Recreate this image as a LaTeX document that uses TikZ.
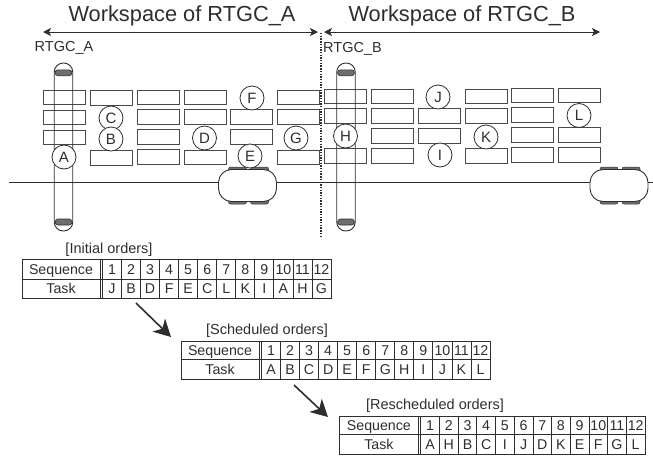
\documentclass[tikz,border=0pt]{standalone}
\usepackage{fontspec}
\setmainfont{Liberation Sans}
\usetikzlibrary{arrows.meta}
\definecolor{ink}{HTML}{2E2E2E}
\definecolor{boxline}{HTML}{4A4A4A}
\definecolor{wheelgray}{HTML}{6E6E6E}
\tikzset{
  box/.style={draw=boxline,line width=0.9pt,fill=white,minimum width=42pt,minimum height=14.6pt,inner sep=0pt,outer sep=0pt},
  tag/.style={draw=ink,line width=0.8pt,fill=white,circle,minimum size=24pt,inner sep=0pt,font=\fontsize{15}{15}\selectfont,text=ink,text height=10.7pt,text depth=0pt},
  crane/.style={draw=ink,line width=0.9pt,rounded corners=9pt,minimum width=18.5pt,minimum height=168pt,inner sep=0pt},
  wheel/.style={draw=ink,line width=0.6pt,fill=wheelgray,rounded corners=3pt,minimum width=17pt,minimum height=6pt,inner sep=0pt},
  truck/.style={draw=ink,line width=0.9pt,fill=white,rounded corners=13pt,minimum width=58pt,minimum height=32pt,inner sep=0pt},
  truckwheel/.style={draw=ink,line width=0.5pt,fill=wheelgray,rounded corners=2pt,minimum width=18pt,minimum height=6pt,inner sep=0pt},
  heading/.style={font=\fontsize{21.8}{22}\selectfont,text=ink,inner sep=0pt},
  small/.style={font=\fontsize{14.5}{14.5}\selectfont,text=ink,inner sep=0pt},
  cellt/.style={font=\fontsize{14.2}{14.2}\selectfont,text=ink,inner sep=0pt,text height=10.2pt,text depth=0pt},
  span/.style={draw=ink,line width=1pt,{Stealth[length=8pt,width=8pt,inset=2pt]}-{Stealth[length=8pt,width=8pt,inset=2pt]}},
  flow/.style={draw=ink,line width=1.6pt,-{Stealth[length=17pt,width=18pt,inset=5pt]}},
  grid/.style={draw=ink,line width=0.8pt}
}
% name, x of the left edge, x of the double rule, top, middle and bottom rule, width, tasks
\newcommand{\ordertable}[8]{%
  \draw[grid] (#2,#4) rectangle (#2+#7,#6);
  \draw[grid] (#2,#5) -- (#2+#7,#5);
  \draw[grid] (#3,#4) -- (#3,#6);
  \draw[grid] (#3+2.5,#4) -- (#3+2.5,#6);
  \pgfmathsetmacro{\colw}{(#2+#7-#3-2.5)/12}
  \node[cellt] (#1seq) at ({(#2+#3)/2},{(#4+#5)/2}) {Sequence};
  \node[cellt] (#1task) at ({(#2+#3)/2},{(#5+#6)/2}) {Task};
  \foreach \t [count=\i] in {#8}{%
    \pgfmathsetmacro{\cx}{#3+2.5+(\i-0.5)*\colw}
    \pgfmathsetmacro{\rx}{#3+2.5+\i*\colw}
    \node[cellt] (#1n\i) at (\cx,{(#4+#5)/2}) {\i};
    \node[cellt] (#1t\i) at (\cx,{(#5+#6)/2}) {\t};
    \ifnum\i<12 \draw[grid] (\rx,#4) -- (\rx,#6);\fi
  }%
}
\begin{document}
\begin{tikzpicture}[x=1pt,y=-1pt]
\useasboundingbox (0,0) rectangle (653,456);
% headings
\node[heading] (wsa) at (182,16) {Workspace of RTGC\_A};
\node[heading] (wsb) at (462,16) {Workspace of RTGC\_B};
\coordinate (sal) at (43,32); \coordinate (sar) at (318,32);
\coordinate (sbl) at (324,32); \coordinate (sbr) at (600,32);
\draw[span] (sal) -- (sar);
\draw[span] (sbl) -- (sbr);
\node[small] (la) at (64,48) {RTGC\_A};
\node[small] (lb) at (352.5,48.5) {RTGC\_B};
% containers
\foreach \n/\x/\y in {
 a1/64.5/97.5,a2/64.5/117.5,a3/64.5/137.5,
 b1/111.5/98,b4/111.5/158,
 c1/158.5/97.5,c2/158.5/117,c3/158.5/137,c4/158.5/157,
 d1/205.5/97.5,d2/205.5/117,d4/205.5/157.5,
 e2/251.5/117,e3/251.5/137,
 f1/298.5/97.5,f2/298.5/117,f4/298.5/157.5,
 g1/345/96.5,g2/345/116,g4/345/156,
 h1/392/96.5,h2/392/116,h3/392/136,h4/392/156,
 i2/439/116,i3/439/136,
 j1/486/96.5,j2/486/116,j4/486/156,
 k1/532.5/95.5,k2/532.5/115,k3/532.5/135,k4/532.5/155,
 l1/579.5/95.5,l3/579.5/135,l4/579.5/155}{
  \node[box] (\n) at (\x,\y) {};
}
% lane and trucks
\coordinate (lanea) at (9,182.5); \coordinate (laneb) at (653,182.5);
\draw[ink,line width=1.1pt] (lanea) -- (laneb);
\foreach \n/\x in {ta/247.5,tb/619}{
  \node[truckwheel] (\n w1) at (\x-10,170) {};
  \node[truckwheel] (\n w2) at (\x+12,170) {};
  \node[truckwheel] (\n w3) at (\x-10,201) {};
  \node[truckwheel] (\n w4) at (\x+12,201) {};
  \node[truck] (\n) at (\x,185.5) {};
}
% cranes
\foreach \n/\x in {ca/63.5,cb/346}{
  \node[wheel] (\n u) at (\x,72.8) {};
  \node[wheel] (\n d) at (\x,222) {};
  \node[crane] (\n) at (\x,147) {};
}
% zone boundary
\coordinate (zt) at (321,33); \coordinate (zb) at (321,238);
\draw[ink,line width=1.3pt,dash pattern=on 1.4pt off 1.3pt] (zt) -- (zb);
% tags
\foreach \l/\x/\y in {A/64/157,C/111/118,B/111/139,D/204.5/138,F/252/98,E/250/156,G/296/138,
  H/345.5/136,J/438/97,I/440/155,K/486/137,L/579/115.5}{
  \node[tag] (tag\l) at (\x,\y) {\l};
}
% tables
\node[small] (ti) at (109,250) {[Initial orders]};
\ordertable{p}{22}{100}{259.5}{279}{298}{309}{J,B,D,F,E,C,L,K,I,A,H,G}
\node[small] (ts) at (267,331) {[Scheduled orders]};
\ordertable{q}{181}{259}{341}{359.5}{379.5}{309}{A,B,C,D,E,F,G,H,I,J,K,L}
\node[small] (tr) at (435,406) {[Rescheduled orders]};
\ordertable{r}{339.5}{418.3}{416}{434.5}{454}{305.5}{A,H,B,C,I,J,D,K,E,F,G,L}
% flow arrows
\coordinate (f1a) at (136,303); \coordinate (f1b) at (171,337);
\coordinate (f2a) at (294,385); \coordinate (f2b) at (328,417);
\draw[flow] (f1a) -- (f1b);
\draw[flow] (f2a) -- (f2b);
\end{tikzpicture}
\end{document}
